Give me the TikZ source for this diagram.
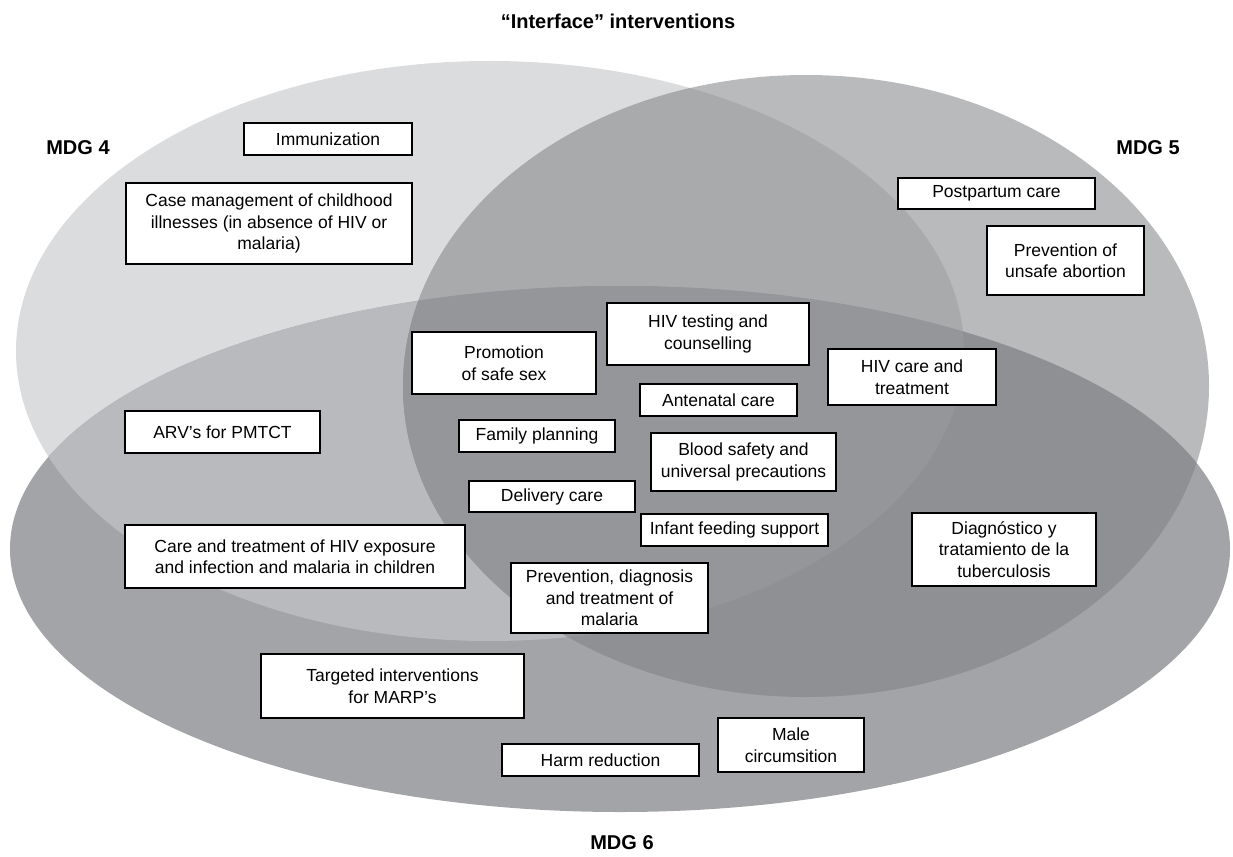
\documentclass[tikz,border=0pt]{standalone}
\usepackage{fontspec}
\setmainfont{Liberation Sans}
\definecolor{cA}{HTML}{DBDCDD}
\definecolor{cB}{HTML}{B9BABC}
\definecolor{cC}{HTML}{A3A4A7}
\definecolor{cAB}{HTML}{A9AAAC}
\definecolor{cAC}{HTML}{B9BABD}
\definecolor{cBC}{HTML}{8F9093}
\definecolor{cABC}{HTML}{959699}
\tikzset{
  box/.style={draw=black, fill=white, line width=1.1pt, align=center, inner sep=0pt,
    font={\fontsize{17.5}{21.5}\selectfont}},
  mdg/.style={font={\fontsize{20}{24}\selectfont\bfseries}, inner sep=0pt},
  ea/.style={x radius=474pt, y radius=290pt},
  eb/.style={x radius=403pt, y radius=311pt},
  ec/.style={x radius=610pt, y radius=263pt}
}
\begin{document}
\begin{tikzpicture}[x=1pt,y=-1pt]
\useasboundingbox (0,0) rectangle (1233,856);
% single regions
\fill[cA] (490,351) ellipse [ea];
\fill[cB] (806,386) ellipse [eb];
\fill[cC] (620,549) ellipse [ec];
% pairwise with ellipse A
\begin{scope}
  \clip (490,351) ellipse [ea];
  \fill[cAB] (806,386) ellipse [eb];
  \fill[cAC] (620,549) ellipse [ec];
\end{scope}
% B and C, then A, B and C
\begin{scope}
  \clip (806,386) ellipse [eb];
  \fill[cBC] (620,549) ellipse [ec];
  \clip (490,351) ellipse [ea];
  \fill[cABC] (620,549) ellipse [ec];
\end{scope}

% labels
\node[mdg] (title) at (618,21) {“Interface” interventions};
\node[mdg] (mdg4) at (78,148) {MDG 4};
\node[mdg] (mdg5) at (1148,148) {MDG 5};
\node[mdg] (mdg6) at (622,843) {MDG 6};

% boxes
\node[box, minimum width=168pt, minimum height=32pt] (imm) at (328,139) {Immunization};
\node[box, minimum width=286pt, minimum height=81pt] (casem) at (269,223.5) {Case management of childhood\\illnesses (in absence of HIV or\\malaria)};
\node[box, minimum width=197pt, minimum height=31pt] (postp) at (996.5,193.5) {Postpartum care};
\node[box, minimum width=157pt, minimum height=69pt] (abort) at (1065.5,260.5) {Prevention of\\unsafe abortion};
\node[box, minimum width=184pt, minimum height=62pt] (safesex) at (504,363) {Promotion\\of safe sex};
\node[box, minimum width=195pt, minimum height=42pt] (arv) at (222.5,432) {ARV’s for PMTCT};
\node[box, minimum width=156pt, minimum height=32pt] (famplan) at (537,436) {Family planning};
\node[box, minimum width=166pt, minimum height=31pt] (deliv) at (552,496.5) {Delivery care};
\node[box, minimum width=340pt, minimum height=63pt] (caretr) at (295,556.5) {Care and treatment of HIV exposure\\and infection and malaria in children};
\node[box, minimum width=202pt, minimum height=62pt] (hivtest) at (708,334) {HIV testing and\\counselling};
\node[box, minimum width=168pt, minimum height=56pt] (hivcare) at (912,377) {HIV care and\\treatment};
\node[box, minimum width=157pt, minimum height=32pt] (antenat) at (718.5,400) {Antenatal care};
\node[box, minimum width=185pt, minimum height=58pt] (blood) at (743.5,462) {Blood safety and\\universal precautions};
\node[box, minimum width=187pt, minimum height=32pt] (infant) at (734.5,530) {Infant feeding support};
\node[box, minimum width=184pt, minimum height=73pt] (tb) at (1004,549.5) {Diagnóstico y\\tratamiento de la\\tuberculosis};
\node[box, minimum width=197pt, minimum height=70pt] (malaria) at (609.5,598) {Prevention, diagnosis\\and treatment of\\malaria};
\node[box, minimum width=263pt, minimum height=64pt] (marp) at (392.5,686) {Targeted interventions\\for MARP’s};
\node[box, minimum width=197pt, minimum height=32pt] (harm) at (600.5,760) {Harm reduction};
\node[box, minimum width=146pt, minimum height=54pt] (male) at (791,745) {Male\\circumsition};
\end{tikzpicture}
\end{document}
